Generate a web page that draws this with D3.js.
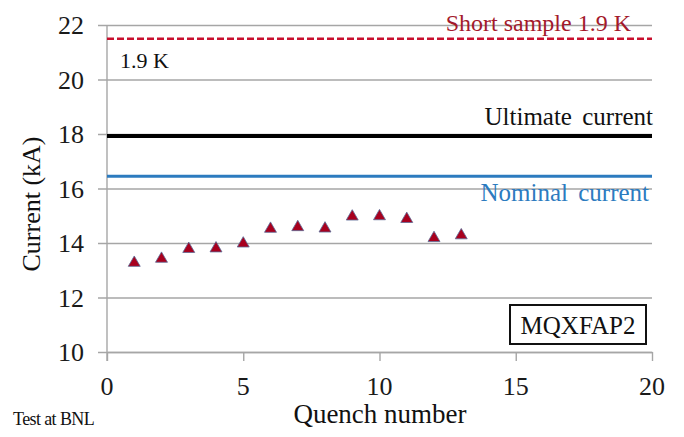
<!DOCTYPE html>
<html>
<head>
<meta charset="utf-8">
<script src="https://cdn.jsdelivr.net/npm/d3@7"></script>
<style>
  body { margin: 0; background: #fff; }
</style>
</head>
<body>
<div id="chart"></div>
<script>
// quench data
var quenchNo = [1, 2, 3, 4, 5, 6, 7, 8, 9, 10, 11, 12, 13];
var currentKA = [13.27, 13.42, 13.78, 13.8, 13.98, 14.52, 14.58, 14.53, 14.97, 14.98, 14.88, 14.18, 14.28];

// reference levels (kA)
var refNames = ["Short sample 1.9 K", "Ultimate current", "Nominal current"];
var refValues = [21.5, 17.93, 16.45];

var xTicks = [0, 5, 10, 15, 20];
var yTicks = [10, 12, 14, 16, 18, 20, 22];

var w = 684, h = 437;
var plotL = 107, plotR = 652, plotT = 25, plotB = 352;
var serif = "'Liberation Serif', 'DejaVu Serif', serif";

var svg = d3.select("#chart").append("svg")
    .attr("width", w).attr("height", h)
    .attr("font-family", serif);

var xScale = d3.scaleLinear().domain([0, 20]).range([plotL, plotR]);
var yScale = d3.scaleLinear().domain([10, 22]).range([plotB, plotT]);

var grey = "#a6a6a6";

// gridlines (also act as y ticks)
svg.append("g")
  .attr("transform", "translate(" + plotL + ",0)")
  .call(d3.axisLeft(yScale).tickValues(yTicks).tickSize(-(plotR - plotL)).tickFormat(""))
  .call(function(g) {
    g.select(".domain").remove();
    g.selectAll(".tick line").attr("stroke", grey).attr("stroke-width", 1.4)
      .attr("x1", -9);
  });

// y tick labels
svg.append("g").selectAll("text")
  .data(yTicks).enter().append("text")
  .attr("x", 84)
  .attr("y", function(d) { return yScale(d) + 9; })
  .attr("text-anchor", "end")
  .attr("font-family", serif)
  .attr("font-size", 26)
  .attr("fill", "#1a1a1a")
  .text(function(d) { return d; });

// x axis
svg.append("g")
  .attr("transform", "translate(0," + plotB + ")")
  .call(d3.axisBottom(xScale).tickValues(xTicks).tickSize(9).tickSizeOuter(0).tickFormat(""))
  .call(function(g) {
    g.select(".domain").attr("stroke", grey).attr("stroke-width", 1.4);
    g.selectAll(".tick line").attr("stroke", grey).attr("stroke-width", 1.4);
  });

svg.append("g").selectAll("text")
  .data(xTicks).enter().append("text")
  .attr("x", function(d) { return xScale(d); })
  .attr("y", 395)
  .attr("text-anchor", "middle")
  .attr("font-family", serif)
  .attr("font-size", 26)
  .attr("fill", "#1a1a1a")
  .text(function(d) { return d; });

// y axis line
svg.append("line")
  .attr("x1", plotL).attr("x2", plotL)
  .attr("y1", plotT).attr("y2", plotB + 9)
  .attr("stroke", grey).attr("stroke-width", 1.4);

// reference lines
svg.append("line")
  .attr("x1", plotL).attr("x2", plotR)
  .attr("y1", yScale(refValues[0])).attr("y2", yScale(refValues[0]))
  .attr("stroke", "#c8102e").attr("stroke-width", 2.5)
  .attr("stroke-dasharray", "7,3");
svg.append("line")
  .attr("x1", plotL).attr("x2", plotR)
  .attr("y1", yScale(refValues[1])).attr("y2", yScale(refValues[1]))
  .attr("stroke", "#000").attr("stroke-width", 4);
svg.append("line")
  .attr("x1", plotL).attr("x2", plotR)
  .attr("y1", yScale(refValues[2])).attr("y2", yScale(refValues[2]))
  .attr("stroke", "#2c7bbf").attr("stroke-width", 3);

// reference labels
function label(x, y, size, fill, anchor, txt) {
  return svg.append("text").attr("x", x).attr("y", y)
    .attr("text-anchor", anchor).attr("font-family", serif)
    .attr("font-size", size).attr("fill", fill).text(txt);
}
label(631, 31, 24, "#a3192b", "end", refNames[0]);
label(120, 68, 22, "#111", "start", "1.9 K");
label(653, 125, 25, "#111", "end", refNames[1]).attr("word-spacing", 4);
label(649, 201, 25, "#2c7bbf", "end", refNames[2]).attr("word-spacing", 4);

// data points
svg.append("g").selectAll("path")
  .data(quenchNo).enter().append("path")
  .attr("transform", function(d, i) {
    return "translate(" + xScale(d) + "," + yScale(currentKA[i]) + ")";
  })
  .attr("d", d3.symbol().type(d3.symbolTriangle).size(62))
  .attr("fill", "#a8001e")
  .attr("stroke", "#5a6a96")
  .attr("stroke-width", 0.8);

// magnet label box
svg.append("rect")
  .attr("x", 510).attr("y", 305).attr("width", 136).attr("height", 39)
  .attr("fill", "#fff").attr("stroke", "#111").attr("stroke-width", 2);
label(578, 334, 25, "#111", "middle", "MQXFAP2");

// axis titles
svg.append("text")
  .attr("transform", "translate(40,204) rotate(-90)")
  .attr("text-anchor", "middle")
  .attr("font-family", serif)
  .attr("font-size", 26).attr("fill", "#111")
  .text("Current (kA)");
label(380, 423, 27, "#111", "middle", "Quench number");
label(13, 425, 18, "#111", "start", "Test at BNL").attr("letter-spacing", -0.6);
</script>
</body>
</html>
